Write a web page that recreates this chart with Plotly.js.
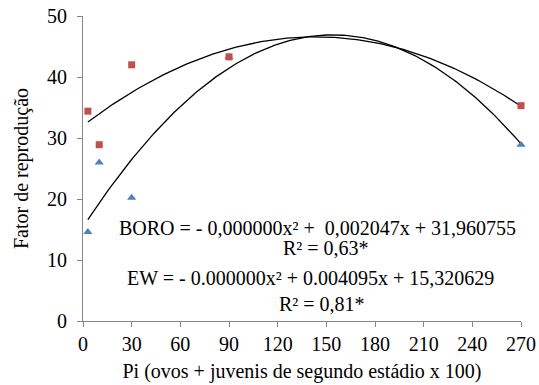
<!DOCTYPE html>
<html>
<head>
<meta charset="utf-8">
<script src="https://cdn.plot.ly/plotly-3.0.1.min.js"></script>
<style>html,body{margin:0;padding:0;background:#fff}#chart{width:539px;height:385px}</style>
</head>
<body>
<div id="chart"></div>
<script>
// Data
var pi = [3, 10, 30, 90, 270];
var boro = [34.4, 28.9, 42.0, 43.3, 35.3];
var ew = [14.6, 26.0, 20.2, 43.3, 28.9];
var xTicks = [0, 30, 60, 90, 120, 150, 180, 210, 240, 270];
var yTicks = [0, 10, 20, 30, 40, 50];
var eqBoro = 'BORO = - 0,000000x² +  0,002047x + 31,960755';
var r2Boro = 'R² = 0,63*';
var eqEw = 'EW = - 0.000000x² + 0.004095x + 15,320629';
var r2Ew = 'R² = 0,81*';

// least-squares quadratic fit
function quadFit(xs, ys) {
  var S = [0,0,0,0,0], T = [0,0,0];
  for (var i = 0; i < xs.length; i++) {
    var p = 1;
    for (var k = 0; k < 5; k++) { S[k] += p; if (k < 3) T[k] += p * ys[i]; p *= xs[i]; }
  }
  var A = [[S[0],S[1],S[2],T[0]],[S[1],S[2],S[3],T[1]],[S[2],S[3],S[4],T[2]]];
  for (var c = 0; c < 3; c++) {
    for (var r = c + 1; r < 3; r++) {
      var f = A[r][c] / A[c][c];
      for (var j = c; j < 4; j++) A[r][j] -= f * A[c][j];
    }
  }
  var b = [0,0,0];
  for (var r2 = 2; r2 >= 0; r2--) {
    var s = A[r2][3];
    for (var j2 = r2 + 1; j2 < 3; j2++) s -= A[r2][j2] * b[j2];
    b[r2] = s / A[r2][r2];
  }
  return b;
}
function curve(xs, ys) {
  var b = quadFit(xs, ys);
  var x0 = Math.min.apply(null, xs), x1 = Math.max.apply(null, xs);
  var cx = [], cy = [];
  for (var i = 0; i <= 200; i++) {
    var x = x0 + (x1 - x0) * i / 200;
    cx.push(x); cy.push(b[0] + b[1] * x + b[2] * x * x);
  }
  return {x: cx, y: cy};
}
var cb = curve(pi, boro), ce = curve(pi, ew);

var font = {family: 'Times New Roman, Liberation Serif, DejaVu Serif, serif', color: '#000', size: 20};
var traces = [
  {x: cb.x, y: cb.y, mode: 'lines', line: {color: '#000', width: 1.3}, hoverinfo: 'skip', showlegend: false},
  {x: ce.x, y: ce.y, mode: 'lines', line: {color: '#000', width: 1.3}, hoverinfo: 'skip', showlegend: false},
  {x: pi, y: ew, mode: 'markers', marker: {symbol: 'triangle-up', size: 8, color: '#4F81BD'}, cliponaxis: false, showlegend: false},
  {x: pi, y: boro, mode: 'markers', marker: {symbol: 'square', size: 7, color: '#C0504D'}, cliponaxis: false, showlegend: false}
];
var axisCommon = {showgrid: false, zeroline: false, showline: true, linecolor: '#868686', linewidth: 1,
  ticks: 'outside', ticklen: 5, tickcolor: '#868686', tickfont: font};
var layout = {
  width: 539, height: 385,
  margin: {l: 83, r: 18, t: 16, b: 64},
  paper_bgcolor: '#fff', plot_bgcolor: '#fff',
  font: font,
  showlegend: false,
  xaxis: Object.assign({}, axisCommon, {range: [0, 270], tickvals: xTicks, ticktext: xTicks.map(String),
    title: {text: 'Pi (ovos + juvenis de segundo estádio x 100)', font: font, standoff: 9}}),
  yaxis: Object.assign({}, axisCommon, {range: [0, 50], tickvals: yTicks, ticktext: yTicks.map(String),
    ticklabelstandoff: 6,
    title: {text: 'Fator de reprodução', font: font, standoff: 13}}),
  annotations: [
    {text: eqBoro, x: 144.3, y: 15.3, xref: 'x', yref: 'y', showarrow: false, font: font},
    {text: r2Boro, x: 149.8, y: 11.9, xref: 'x', yref: 'y', showarrow: false, font: font},
    {text: eqEw, x: 140.5, y: 7.0, xref: 'x', yref: 'y', showarrow: false, font: font},
    {text: r2Ew, x: 147.3, y: 2.8, xref: 'x', yref: 'y', showarrow: false, font: font}
  ]
};
Plotly.newPlot('chart', traces, layout, {staticPlot: true, displayModeBar: false});
</script>
</body>
</html>
